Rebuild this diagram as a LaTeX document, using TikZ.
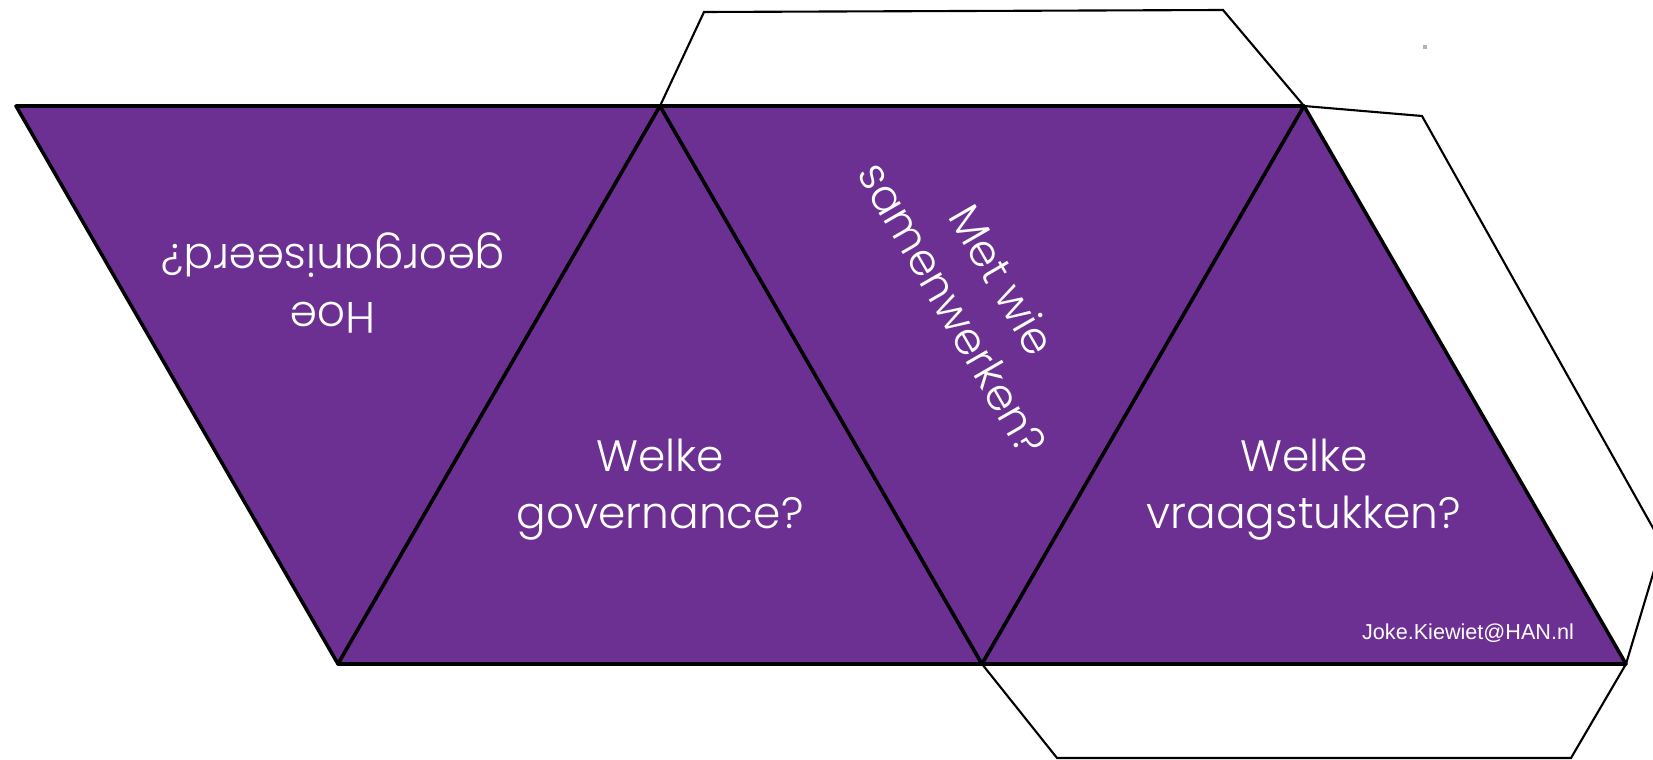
\documentclass[tikz,border=0pt]{standalone}
\usepackage{fontspec}
\setmainfont{Poppins}[UprightFont=* Light]
\newfontfamily\mailfont{Liberation Sans}
\definecolor{hanpurple}{RGB}{108,48,147}

\begin{document}
\begin{tikzpicture}[x=0.02cm, y=-0.02cm,
	face/.style = {draw, line width=2pt, fill=hanpurple, line join=round},
	flap/.style = {draw, line width=1.2pt},
	facetext/.style = {text=white, align=center, font=\fontsize{25}{32.5}\selectfont}]
	
	\useasboundingbox (0,0) rectangle (1653,760);
	\clip (0,0) rectangle (1653,760);
	
	% corners of the net
	\coordinate (a1) at (16,106);
	\coordinate (a2) at (660,106);
	\coordinate (a3) at (1304,106);
	\coordinate (b1) at (338,664);
	\coordinate (b2) at (982,664);
	\coordinate (b3) at (1626,664);
	
	% glue flaps
	\draw[flap] (a2) -- (704,12) -- (1223,10) -- (a3);
	\draw[flap] (a3) -- (1422,116) -- (1662,544) -- (b3);
	\draw[flap] (b2) -- (1057,758) -- (1571,758) -- (b3);
	
	% four faces
	\draw[face] (a1) -- (a2) -- (b1) -- cycle;
	\draw[face] (b1) -- (a2) -- (b2) -- cycle;
	\draw[face] (a2) -- (a3) -- (b2) -- cycle;
	\draw[face] (b2) -- (a3) -- (b3) -- cycle;
	
	\node[facetext, rotate=180] (hoe) at (333,283) {Hoe\\georganiseerd?};
	\node[facetext] (governance) at (660,490) {Welke\\governance?};
	\node[facetext, rotate=-60] (samen) at (978,294) {Met wie\\samenwerken?};
	\node[facetext] (vraag) at (1304,490) {Welke\\vraagstukken?};
	
	\node[text=white, font=\mailfont\fontsize{12.3}{14}\selectfont] (mail) at (1468,633) {Joke.Kiewiet@HAN.nl};
	
	\fill[gray!60] (1423,45) rectangle (1427,49);
	
\end{tikzpicture}
\end{document}
